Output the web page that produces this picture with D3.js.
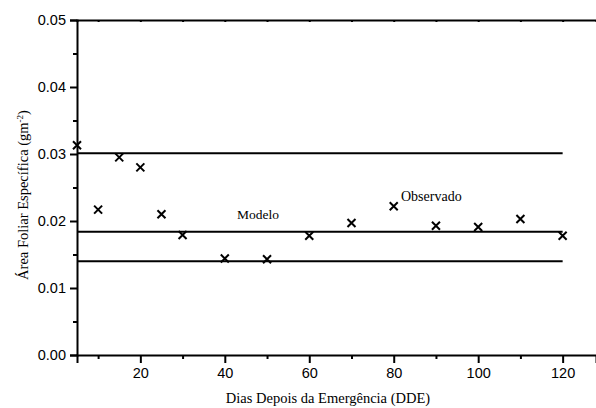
<!DOCTYPE html>
<html>
<head>
<meta charset="utf-8">
<script src="https://cdn.jsdelivr.net/npm/d3@7"></script>
<style>
  body { margin: 0; background: #fff; }
  svg { display: block; }
</style>
</head>
<body>
<svg id="chart" width="596" height="408"></svg>
<script>
// observed values (days after emergence, specific leaf area)
var dias = [5, 10, 15, 20, 25, 30, 40, 50, 60, 70, 80, 90, 100, 110, 120];
var observado = [0.0313, 0.0217, 0.0295, 0.0280, 0.0210, 0.0179, 0.0144, 0.0143,
                 0.0178, 0.0197, 0.0222, 0.0193, 0.0191, 0.0203, 0.0178];

// model lines
var modelo = [0.0301, 0.0184, 0.0140];
var modeloX = [5, 120];

var xTicks = [20, 40, 60, 80, 100, 120];
var xMinor = [10, 30, 50, 70, 90, 110];
var yTicks = [0, 0.01, 0.02, 0.03, 0.04, 0.05];
var yMinor = [0.005, 0.015, 0.025, 0.035, 0.045];

var svg = d3.select("#chart");
var plotLeft = 77, plotRight = 596, plotTop = 20, plotBottom = 355;

var x = d3.scaleLinear().domain([5, 127.9]).range([plotLeft, plotRight]);
var y = d3.scaleLinear().domain([0, 0.05]).range([plotBottom, plotTop]);

// horizontal model lines
svg.append("g").selectAll("line")
    .data(modelo)
    .enter().append("line")
    .attr("x1", x(modeloX[0]))
    .attr("x2", x(modeloX[1]))
    .attr("y1", function (d) { return y(d); })
    .attr("y2", function (d) { return y(d); })
    .attr("stroke", "#000")
    .attr("stroke-width", 2);

// observed points as crosses
var s = 4;
svg.append("g").selectAll("path")
    .data(d3.zip(dias, observado))
    .enter().append("path")
    .attr("d", function (d) {
        var cx = x(d[0]), cy = y(d[1]);
        return "M" + (cx - s) + "," + (cy - s) + "L" + (cx + s) + "," + (cy + s) +
               "M" + (cx - s) + "," + (cy + s) + "L" + (cx + s) + "," + (cy - s);
    })
    .attr("stroke", "#000")
    .attr("stroke-width", 2)
    .attr("fill", "none");

// axes
var tickFont = "'Liberation Sans', Arial, sans-serif";
var titleFont = "'Liberation Serif', 'Times New Roman', serif";

var xAxis = svg.append("g")
    .attr("transform", "translate(0," + plotBottom + ")")
    .call(d3.axisBottom(x).tickValues(xTicks).tickSize(8).tickPadding(5).tickFormat(d3.format("d")));
xAxis.selectAll(".tick text").attr("font-family", tickFont).attr("font-size", 14.5).attr("fill", "#000");

svg.append("g")
    .attr("transform", "translate(0," + plotBottom + ")")
    .call(d3.axisBottom(x).tickValues(xMinor).tickSize(4).tickFormat(""))
    .select(".domain").remove();

var yAxis = svg.append("g")
    .attr("transform", "translate(" + plotLeft + ",0)")
    .call(d3.axisLeft(y).tickValues(yTicks).tickSize(7).tickPadding(4).tickFormat(d3.format(".2f")));
yAxis.selectAll(".tick text").attr("font-family", tickFont).attr("font-size", 14.5).attr("fill", "#000");

svg.append("g")
    .attr("transform", "translate(" + plotLeft + ",0)")
    .call(d3.axisLeft(y).tickValues(yMinor).tickSize(4).tickFormat(""))
    .select(".domain").remove();

// top frame line with tiny ticks
svg.append("g")
    .attr("transform", "translate(0," + plotTop + ")")
    .call(d3.axisBottom(x).tickValues(xTicks.concat(xMinor)).tickSize(2).tickFormat(""));

svg.selectAll(".domain").attr("stroke-width", 2);
svg.selectAll(".tick line").attr("stroke-width", 2);

// annotations
svg.append("text")
    .attr("x", 237)
    .attr("y", 219)
    .attr("font-family", titleFont)
    .attr("font-size", 13.5)
    .text("Modelo");

svg.append("text")
    .attr("x", 401)
    .attr("y", 201)
    .attr("font-family", titleFont)
    .attr("font-size", 14)
    .text("Observado");

// axis titles
svg.append("text")
    .attr("x", 328)
    .attr("y", 403)
    .attr("text-anchor", "middle")
    .attr("font-family", titleFont)
    .attr("font-size", 14.5)
    .text("Dias Depois da Emergência (DDE)");

var yt = svg.append("text")
    .attr("transform", "translate(28,195) rotate(-90)")
    .attr("text-anchor", "middle")
    .attr("font-family", titleFont)
    .attr("font-size", 14.5);
yt.append("tspan").text("Área Foliar Específica (gm");
yt.append("tspan").attr("font-size", 9).attr("dy", -5).text("-2");
yt.append("tspan").attr("dy", 5).text(")");
</script>
</body>
</html>
